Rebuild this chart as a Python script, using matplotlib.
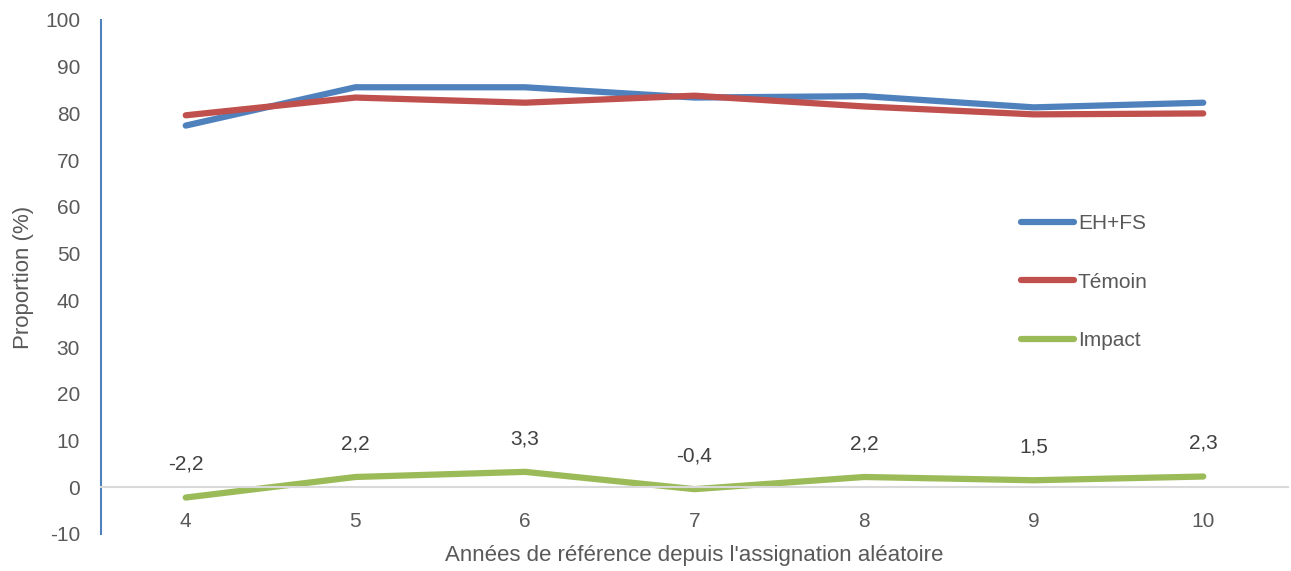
import matplotlib
matplotlib.use('Agg')
import matplotlib.pyplot as plt
from matplotlib import font_manager

# Data
years = [4, 5, 6, 7, 8, 9, 10]
eh_fs = [77.4, 85.6, 85.6, 83.4, 83.7, 81.3, 82.3]
temoin = [79.6, 83.4, 82.3, 83.8, 81.5, 79.8, 80.0]
impact = [-2.2, 2.2, 3.3, -0.4, 2.2, 1.5, 2.3]
y_ticks = list(range(-10, 101, 10))

# Narrow font if available
names = {f.name for f in font_manager.fontManager.ttflist}
family = 'Liberation Sans Narrow' if 'Liberation Sans Narrow' in names else 'Liberation Sans'
plt.rcParams['font.family'] = [family, 'DejaVu Sans']
plt.rcParams['axes.unicode_minus'] = False

text_col = '#595959'

fig = plt.figure(figsize=(12.91, 5.71), dpi=100)
ax = fig.add_axes([0.0782, 0.0648, 0.9195, 0.9002])

ax.plot(years, eh_fs, color='#4F81BD', lw=4.5, solid_capstyle='round', label='EH+FS')
ax.plot(years, temoin, color='#C0504D', lw=4.5, solid_capstyle='round', label='Témoin')
ax.plot(years, impact, color='#9BBB59', lw=4.5, solid_capstyle='round', label='Impact')

# value labels above impact line
for x, v in zip(years, impact):
    ax.annotate(f'{v:.1f}'.replace('.', ','), (x, v), xytext=(0, 24),
                textcoords='offset points', ha='center', va='center',
                fontsize=15, color='#404040')

ax.set_xlim(3.5, 10.5)
ax.set_ylim(-10, 100)
ax.set_yticks(y_ticks)
ax.set_xticks(years)
ax.set_xticklabels([str(y) for y in years])

ax.spines['top'].set_visible(False)
ax.spines['right'].set_visible(False)
ax.spines['left'].set_color('#4F81BD')
ax.spines['left'].set_linewidth(1.5)
ax.spines['bottom'].set_position(('data', 0))
ax.spines['bottom'].set_color('#D9D9D9')
ax.spines['bottom'].set_linewidth(1.5)

ax.tick_params(axis='both', length=0, labelsize=15, labelcolor=text_col)
ax.tick_params(axis='x', pad=17.5)
ax.tick_params(axis='y', pad=15)

ax.set_ylabel('Proportion (%)', fontsize=16, color=text_col)
ax.yaxis.set_label_coords(-0.056, 0.5)
ax.set_xlabel("Années de référence depuis l'assignation aléatoire", fontsize=16,
              color=text_col)
ax.xaxis.set_label_coords(0.5, -0.022)

leg = ax.legend(loc='upper left', bbox_to_anchor=(0.759, 0.659), frameon=False,
                fontsize=15, labelspacing=1.9, handlelength=2.55, handletextpad=0.2)
for t in leg.get_texts():
    t.set_color(text_col)

fig.savefig('out.png', dpi=100)
